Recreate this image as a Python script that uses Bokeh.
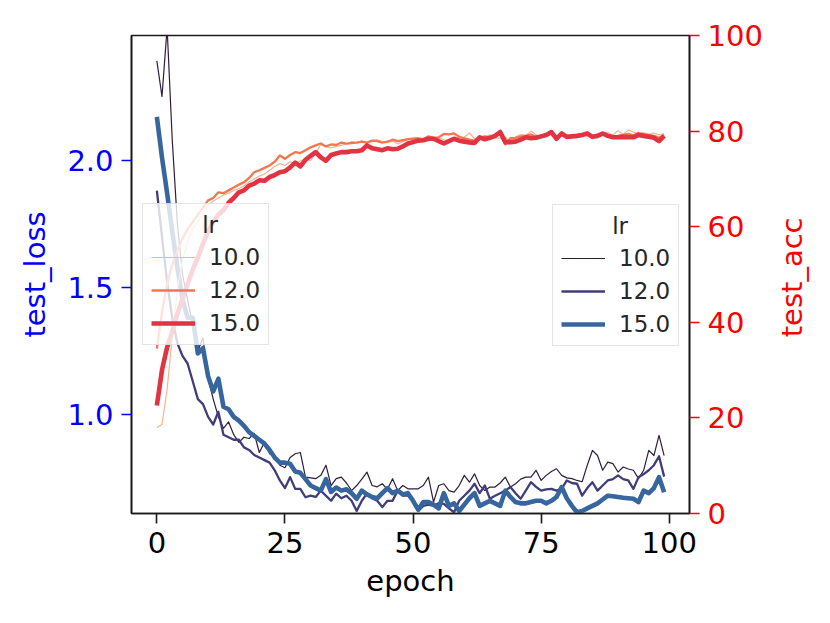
import math
from bokeh.plotting import figure
from bokeh.models import (Range1d, LinearAxis, FixedTicker, PrintfTickFormatter,
                          Legend, LegendItem)
from bokeh.core.properties import value
from bokeh.embed import file_html
from bokeh.resources import INLINE

epochs = list(range(100))
lr_labels = ["10.0", "12.0", "15.0"]
legend_title = "lr"
acc_label = "test_acc"

loss_10 = [2.39, 2.25, 2.52, 2.08, 1.75, 1.55, 1.45, 1.35, 1.25, 1.30,
           1.14, 1.06, 0.99, 0.945, 0.97, 0.92, 0.89, 0.91, 0.905, 0.925,
           0.85, 0.89, 0.845, 0.835, 0.80, 0.79, 0.83, 0.845, 0.85, 0.753,
           0.75, 0.747, 0.76, 0.80, 0.72, 0.747, 0.753, 0.73, 0.70, 0.72,
           0.745, 0.773, 0.72, 0.715, 0.727, 0.705, 0.747, 0.70, 0.72, 0.707,
           0.707, 0.707, 0.72, 0.753, 0.655, 0.72, 0.727, 0.70, 0.694, 0.72,
           0.76, 0.733, 0.766, 0.72, 0.70, 0.714, 0.714, 0.73, 0.753, 0.714,
           0.727, 0.745, 0.753, 0.753, 0.78, 0.74, 0.76, 0.775, 0.786, 0.76,
           0.75, 0.747, 0.74, 0.735, 0.80, 0.858, 0.838, 0.78, 0.812, 0.806,
           0.773, 0.793, 0.785, 0.78, 0.747, 0.78, 0.858, 0.838, 0.917, 0.838]
loss_12 = [1.88, 1.70, 1.52, 1.38, 1.28, 1.23, 1.20, 1.13, 1.06, 1.04,
           0.99, 0.96, 1.01, 0.92, 0.91, 0.90, 0.90, 0.87, 0.86, 0.84,
           0.83, 0.82, 0.81, 0.78, 0.74, 0.71, 0.753, 0.707, 0.707, 0.674,
           0.68, 0.675, 0.70, 0.68, 0.66, 0.688, 0.67, 0.68, 0.66, 0.62,
           0.66, 0.688, 0.67, 0.66, 0.635, 0.66, 0.66, 0.70, 0.68, 0.68,
           0.66, 0.62, 0.64, 0.645, 0.64, 0.65, 0.648, 0.63, 0.615, 0.66,
           0.68, 0.70, 0.727, 0.69, 0.72, 0.668, 0.68, 0.69, 0.70, 0.714,
           0.69, 0.668, 0.70, 0.733, 0.715, 0.70, 0.705, 0.707, 0.70, 0.707,
           0.74, 0.73, 0.727, 0.68, 0.71, 0.733, 0.70, 0.72, 0.74, 0.745,
           0.76, 0.745, 0.74, 0.707, 0.753, 0.765, 0.78, 0.80, 0.835, 0.755]
loss_15 = [2.17, 2.01, 1.87, 1.72, 1.58, 1.45, 1.38, 1.38, 1.24, 1.26,
           1.15, 1.09, 1.14, 1.03, 1.02, 0.99, 0.975, 0.955, 0.93, 0.915,
           0.90, 0.885, 0.86, 0.83, 0.81, 0.81, 0.806, 0.775, 0.77, 0.745,
           0.72, 0.71, 0.70, 0.745, 0.695, 0.712, 0.70, 0.705, 0.69, 0.668,
           0.70, 0.685, 0.675, 0.67, 0.69, 0.71, 0.69, 0.70, 0.685, 0.69,
           0.66, 0.625, 0.655, 0.655, 0.645, 0.63, 0.69, 0.64, 0.65, 0.62,
           0.645, 0.67, 0.69, 0.64, 0.65, 0.66, 0.65, 0.64, 0.70, 0.675,
           0.655, 0.65, 0.65, 0.655, 0.66, 0.66, 0.65, 0.66, 0.675, 0.714,
           0.67, 0.64, 0.615, 0.62, 0.63, 0.64, 0.65, 0.665, 0.68, 0.678,
           0.675, 0.672, 0.67, 0.668, 0.655, 0.70, 0.69, 0.71, 0.753, 0.694]

acc_10 = [18.0, 18.6, 26.0, 37.0, 47.0, 53.0, 57.0, 59.5, 61.0, 62.5,
          64.5, 65.3, 66.0, 66.6, 67.0, 67.6, 68.0, 68.5, 69.4, 70.0,
          70.6, 71.0, 71.8, 72.6, 73.2, 72.8, 73.6, 73.2, 73.8, 74.2,
          73.8, 75.4, 77.2, 76.8, 76.5, 76.8, 77.0, 77.3, 77.8, 77.6,
          77.9, 77.5, 78.0, 78.2, 77.8, 77.6, 77.9, 77.3, 77.8, 78.2,
          78.5, 78.4, 78.2, 78.8, 78.3, 78.6, 78.2, 77.8, 78.3, 78.6,
          78.7, 79.6, 78.4, 78.5, 78.8, 79.2, 78.6, 78.5, 78.8, 77.5,
          78.8, 79.3, 79.1, 80.0, 79.2, 78.9, 79.3, 79.4, 79.0, 79.2,
          78.7, 78.9, 79.1, 79.0, 79.3, 79.1, 78.8, 79.5, 79.7, 79.2,
          80.1, 79.3, 80.2, 79.8, 79.5, 79.7, 79.3, 79.6, 79.2, 79.5]
acc_12 = [34.5, 42.0, 48.0, 52.0, 55.0, 57.5, 59.5, 61.0, 62.5, 64.0,
          65.5, 66.0, 67.2, 67.0, 67.6, 68.2, 68.8, 69.3, 70.2, 71.4,
          71.8, 72.3, 72.8, 73.6, 74.9, 74.2, 75.0, 75.6, 75.4, 76.0,
          76.6, 77.0, 77.4, 76.8, 77.2, 77.1, 77.6, 77.4, 77.5, 77.6,
          77.8, 77.6, 78.0, 77.9, 77.6, 77.8, 78.2, 77.9, 78.1, 78.3,
          78.4, 78.5, 78.3, 78.9, 78.6, 78.7, 79.4, 79.3, 79.5, 78.8,
          78.5, 78.2, 78.0, 78.6, 78.9, 78.6, 79.1, 79.4, 77.2, 78.5,
          78.6, 78.9, 79.0, 79.3, 78.8, 79.0, 79.2, 79.5, 78.9, 79.2,
          79.0, 78.8, 79.1, 79.4, 79.2, 78.9, 79.0, 79.3, 79.1, 78.9,
          79.0, 79.2, 79.4, 79.1, 79.6, 79.3, 79.2, 79.0, 78.6, 79.2]
acc_15 = [22.6, 30.0, 34.8, 38.0, 41.8, 45.0, 48.0, 51.0, 53.5, 56.5,
          59.0, 61.0, 62.5, 63.5, 65.0, 66.0, 67.2, 67.6, 68.6, 69.0,
          69.7, 69.6, 70.4, 70.8, 71.4, 71.6, 72.4, 73.4, 72.6, 74.0,
          74.8, 75.6, 74.5, 73.8, 75.0, 75.3, 75.6, 75.6, 75.8, 75.8,
          76.0, 77.0, 76.4, 76.2, 76.0, 76.4, 76.2, 76.3, 76.8, 77.4,
          77.7, 78.0, 78.1, 78.4, 78.4, 77.9, 77.4, 77.9, 78.4, 78.0,
          77.8, 77.6, 77.5, 78.7, 78.3, 78.6, 79.0, 79.8, 77.7, 77.7,
          77.8, 78.2, 78.7, 78.5, 78.6, 78.9, 79.2, 79.8, 78.4, 79.5,
          78.8, 78.9, 79.0, 79.2, 79.5, 78.8, 79.0, 79.5, 79.0, 78.7,
          78.7, 78.8, 78.7, 78.7, 79.2, 79.0, 78.8, 78.6, 77.9, 79.0]

loss_series = [loss_10, loss_12, loss_15]
acc_series = [acc_10, acc_12, acc_15]
loss_colors = ["#2e1e3b", "#413d7b", "#37659e"]
acc_colors = ["#f6b48f", "#f37651", "#e13342"]
widths = [1.2, 2.3, 4.6]

FONT = "DejaVu Sans"
FRAME_W = 558

x_lo, x_hi = -4.95, 103.95
acc_lo, acc_hi = 0, 100

p = figure(width=814, height=605, output_backend="svg", toolbar_location=None,
           x_range=Range1d(x_lo, x_hi), y_range=Range1d(0.61, 2.49),
           min_border_left=131, min_border_right=125, min_border_top=35,
           min_border_bottom=92)
p.extra_y_ranges = {"acc": Range1d(acc_lo, acc_hi)}
p.grid.visible = False
p.outline_line_color = "#1a1a1a"
p.outline_line_width = 1.6
p.background_fill_color = "white"
p.border_fill_color = "white"

xa = p.xaxis[0]
xa.ticker = FixedTicker(ticks=[0, 25, 50, 75, 100])
xa.axis_label = "epoch"
ya = p.yaxis[0]
ya.ticker = FixedTicker(ticks=[1.0, 1.5, 2.0])
ya.formatter = PrintfTickFormatter(format="%.1f")
ya.axis_label = "test_loss"

acc_axis = LinearAxis(y_range_name="acc",
                      ticker=FixedTicker(ticks=[0, 20, 40, 60, 80, 100]))
p.add_layout(acc_axis, "right")

for ax, col in [(xa, "black"), (ya, "blue"), (acc_axis, "red")]:
    ax.axis_line_color = "#1a1a1a"
    ax.axis_line_width = 1.6
    ax.major_tick_out = 10
    ax.major_tick_in = 0
    ax.minor_tick_out = 0
    ax.minor_tick_in = 0
    ax.major_tick_line_width = 1.6
    ax.major_tick_line_color = col if col != "black" else "#1a1a1a"
    ax.major_label_text_color = col
    ax.major_label_text_font = FONT
    ax.major_label_text_font_size = "29px"
    ax.major_label_standoff = 8
    ax.axis_label_text_color = col
    ax.axis_label_text_font = FONT
    ax.axis_label_text_font_size = "29px"
    ax.axis_label_text_font_style = "normal"
    ax.axis_label_standoff = 12
xa.axis_label_standoff = 8

loss_renderers = []
for ys, c, w in zip(loss_series, loss_colors, widths):
    r = p.line(epochs, ys, line_color=c, line_width=w, line_join="round")
    loss_renderers.append(r)

acc_renderers = []
for ys, c, w in zip(acc_series, acc_colors, widths):
    r = p.line(epochs, ys, line_color=c, line_width=w, line_join="round",
               y_range_name="acc")
    acc_renderers.append(r)

# right-hand axis title (bottom-to-top, centred on the axis), drawn on the overlay level
px_per_x = FRAME_W / (x_hi - x_lo)
p.text(x=[x_hi + 102 / px_per_x], y=[(acc_lo + acc_hi) / 2 - 0.6], text=[acc_label],
       angle=math.pi / 2, text_align="center", text_baseline="middle",
       text_color="red", text_font=value(FONT), text_font_size="29px",
       y_range_name="acc", level="overlay")


def make_legend(renderers, loc):
    lg = Legend(items=[LegendItem(label=lab, renderers=[r])
                       for lab, r in zip(lr_labels, renderers)],
                location=loc, title="\u00a0" * 7 + legend_title)
    lg.title_text_font = FONT
    lg.title_text_font_size = "23px"
    lg.title_text_font_style = "normal"
    lg.title_text_color = "#262626"
    lg.title_standoff = 6
    lg.label_text_font = FONT
    lg.label_text_font_size = "23px"
    lg.label_text_color = "#262626"
    lg.glyph_width = 44
    lg.glyph_height = 26
    lg.label_standoff = 14
    lg.spacing = 7
    lg.padding = 8
    lg.margin = 0
    lg.border_line_color = "#cccccc"
    lg.border_line_width = 1.2
    lg.background_fill_color = "white"
    lg.background_fill_alpha = 0.8
    return lg


p.add_layout(make_legend(acc_renderers, (11, 168)), "center")
p.add_layout(make_legend(loss_renderers, (421, 167)), "center")

open("out.html", "w").write(file_html(p, INLINE))
